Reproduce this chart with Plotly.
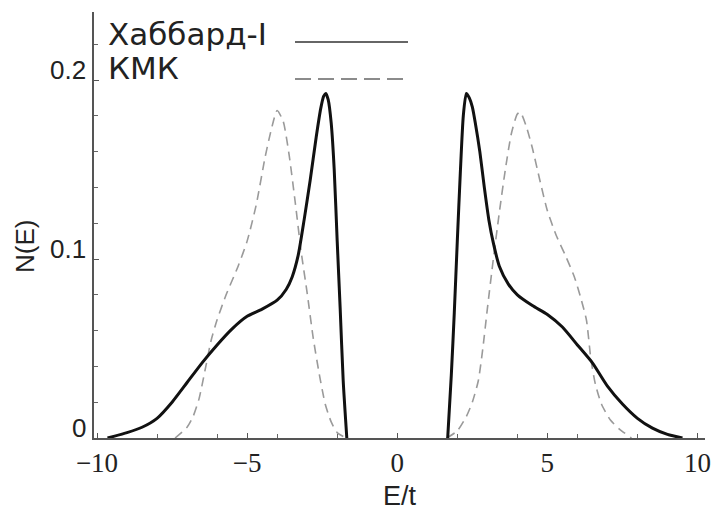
import plotly.graph_objects as go

# ---- data ----
hub_E_left = [-9.65, -9.0, -8.5, -8.0, -7.5, -7.0, -6.5, -6.0, -5.5, -5.0, -4.5, -4.0, -3.7, -3.5, -3.3,
              -3.1, -2.9, -2.7, -2.55, -2.45, -2.38, -2.3, -2.2, -2.1, -2.0, -1.9, -1.8, -1.68]
hub_N_left = [0, 0.003, 0.006, 0.011, 0.020, 0.031, 0.042, 0.052, 0.061, 0.068, 0.072, 0.077, 0.083, 0.090, 0.102,
              0.122, 0.144, 0.168, 0.184, 0.191, 0.1925, 0.189, 0.176, 0.150, 0.110, 0.072, 0.032, 0]
hub_E_right = [1.68, 1.8, 1.9, 2.0, 2.1, 2.2, 2.3, 2.4, 2.5, 2.6, 2.75, 2.9, 3.05, 3.2, 3.4, 3.7, 4.0,
               4.5, 5.0, 5.5, 6.0, 6.5, 7.0, 7.5, 8.0, 8.5, 9.0, 9.5]
hub_N_right = [0, 0.035, 0.070, 0.110, 0.148, 0.180, 0.1925, 0.190, 0.185, 0.176, 0.160, 0.140, 0.122, 0.109, 0.096, 0.086, 0.080,
               0.074, 0.069, 0.062, 0.052, 0.042, 0.029, 0.019, 0.011, 0.0055, 0.002, 0]

kmk_E_left = [-7.4, -7.0, -6.8, -6.6, -6.4, -6.2, -6.0, -5.7, -5.3, -5.0, -4.7, -4.4, -4.2, -4.0, -3.8,
              -3.6, -3.4, -3.2, -3.0, -2.8, -2.6, -2.4, -2.2, -2.0, -1.7]
kmk_N_left = [0, 0.006, 0.012, 0.022, 0.038, 0.0545, 0.066, 0.080, 0.096, 0.110, 0.130, 0.157, 0.172, 0.183, 0.177,
              0.158, 0.132, 0.104, 0.081, 0.056, 0.036, 0.019, 0.009, 0.003, 0]
kmk_E_right = [1.65, 2.0, 2.3, 2.5, 2.7, 2.85, 3.0, 3.2, 3.4, 3.6, 3.8, 4.0, 4.1, 4.3, 4.5, 4.75, 5.0,
               5.3, 5.6, 5.9, 6.1, 6.3, 6.45, 6.6, 6.8, 7.1, 7.4, 7.8]
kmk_N_right = [0, 0.004, 0.012, 0.020, 0.032, 0.050, 0.072, 0.100, 0.126, 0.150, 0.170, 0.181, 0.182, 0.174, 0.162, 0.144, 0.127,
               0.113, 0.102, 0.090, 0.079, 0.066, 0.044, 0.030, 0.019, 0.010, 0.005, 0]

series_names = ["Хаббард-I", "КМК"]
x_tick_vals = [-10, -5, 0, 5, 10]
y_tick_vals = [0, 0.1, 0.2]
y_tick_text = ["0", "0.1", "0.2"]
x_title = "E/t"
y_title = "N(E)"

W, H = 713, 515
L, R, T, B = 94, 8, 12, 77
pw, ph = W - L - R, H - T - B


def px_to_paper_x(px):
    return (px - L) / pw


def px_to_paper_y(py):
    return (H - B - py) / ph


fig = go.Figure()

fig.add_trace(go.Scatter(
    x=kmk_E_left + [None] + kmk_E_right,
    y=kmk_N_left + [None] + kmk_N_right,
    mode="lines", name=series_names[1],
    line=dict(color="#9a9a9a", width=1.6, dash="9px,6px", shape="spline", smoothing=0.6),
    showlegend=False, connectgaps=False))

fig.add_trace(go.Scatter(
    x=hub_E_left + [None] + hub_E_right,
    y=hub_N_left + [None] + hub_N_right,
    mode="lines", name=series_names[0],
    line=dict(color="#111111", width=3, shape="spline", smoothing=0.6),
    showlegend=False, connectgaps=False))

fig.update_xaxes(
    range=[-10.1, 10.25], tickvals=x_tick_vals, ticks="inside", ticklen=5, tickwidth=1, tickcolor="#555",
    showline=True, linecolor="#555", linewidth=1.5, showgrid=False, zeroline=False,
    tickfont=dict(family="Liberation Serif", size=27, color="#222"),
    ticklabeloverflow="allow", automargin=False,
    minor=dict(dtick=2, tick0=0, ticks="inside", ticklen=4, tickcolor="#666", showgrid=False),
    title=dict(text=x_title, font=dict(family="Liberation Sans", size=27, color="#222"), standoff=9),
)
fig.update_yaxes(
    range=[0, 0.238], tickvals=y_tick_vals, ticks="inside", ticklen=5, tickwidth=1, tickcolor="#555",
    showticklabels=False, automargin=False,
    showline=True, linecolor="#555", linewidth=1.5, showgrid=False, zeroline=False,
    minor=dict(dtick=0.02, tick0=0, ticks="inside", ticklen=4, tickcolor="#666", showgrid=False),
)

# y tick labels (drawn slightly above their ticks, as in the reference)
for v, t in zip(y_tick_vals, y_tick_text):
    fig.add_annotation(x=0, xref="paper", y=v, yref="y", text=t, showarrow=False,
                       xanchor="right", yanchor="middle", xshift=-6, yshift=10,
                       font=dict(family="Liberation Sans", size=26, color="#222"))

# y axis title
fig.add_annotation(x=px_to_paper_x(25), xref="paper", y=px_to_paper_y(247), yref="paper", text=y_title,
                   showarrow=False, textangle=-90, xanchor="center", yanchor="middle",
                   font=dict(family="Liberation Sans", size=26, color="#222"))

# legend (text left, line sample right)
leg_font = dict(family="DejaVu Sans", size=31, color="#222")
fig.add_annotation(x=px_to_paper_x(106), xref="paper", y=px_to_paper_y(34), yref="paper",
                   text=series_names[0], showarrow=False, xanchor="left", yanchor="middle", font=leg_font)
fig.add_annotation(x=px_to_paper_x(106), xref="paper", y=px_to_paper_y(68), yref="paper",
                   text=series_names[1], showarrow=False, xanchor="left", yanchor="middle", font=leg_font)

fig.add_shape(type="line", xref="paper", yref="paper",
              x0=px_to_paper_x(295), x1=px_to_paper_x(408), y0=px_to_paper_y(42), y1=px_to_paper_y(42),
              line=dict(color="#333", width=1.6))
fig.add_shape(type="line", xref="paper", yref="paper",
              x0=px_to_paper_x(295), x1=px_to_paper_x(408), y0=px_to_paper_y(79), y1=px_to_paper_y(79),
              line=dict(color="#666", width=1.6, dash="16px,7px"))

fig.update_layout(
    width=W, height=H, margin=dict(l=L, r=R, t=T, b=B, autoexpand=False),
    paper_bgcolor="white", plot_bgcolor="white",
)

fig.write_html("out.html")
